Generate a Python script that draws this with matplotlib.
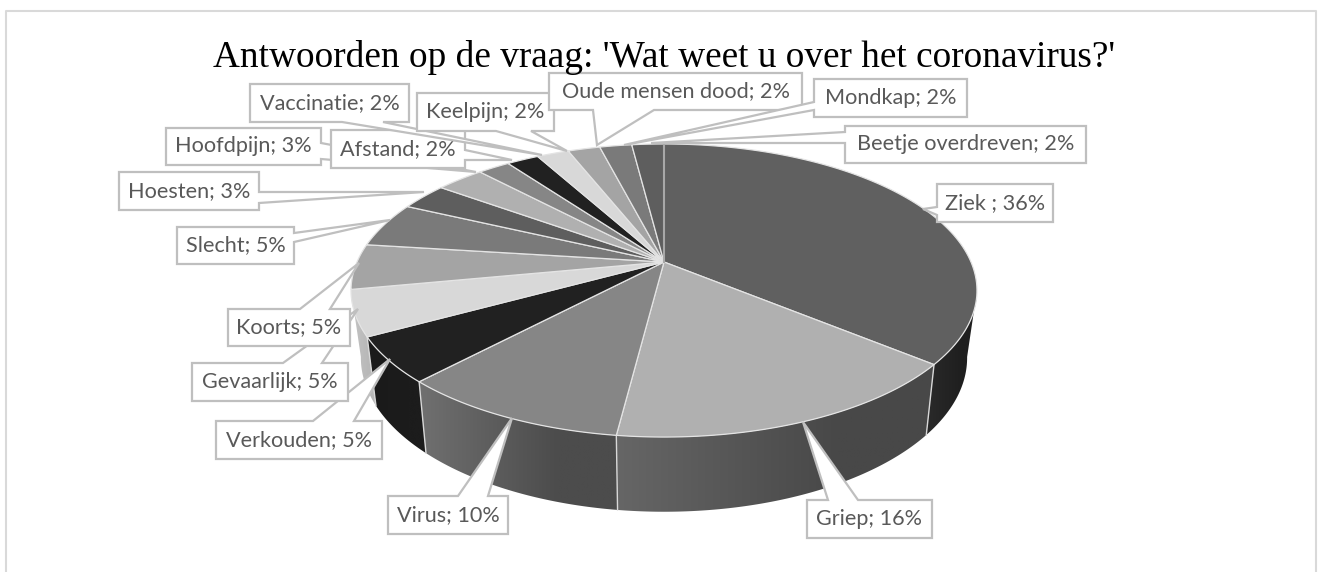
#3D style pie with callout labels
import numpy as np
import matplotlib
matplotlib.use("Agg")
import matplotlib.pyplot as plt
from matplotlib.colors import LinearSegmentedColormap
from matplotlib.patches import Polygon

title = "Antwoorden op de vraag: 'Wat weet u over het coronavirus?'"
labels = ["Ziek ", "Griep", "Virus", "Verkouden", "Gevaarlijk", "Koorts", "Slecht", "Hoesten",
          "Hoofdpijn", "Afstand", "Vaccinatie", "Keelpijn", "Oude mensen dood", "Mondkap", "Beetje overdreven"]
values = [36, 16, 10, 5, 5, 5, 5, 3, 3, 2, 2, 2, 2, 2, 2]

#top colours of the slices
top_colors = ["#606060", "#b0b0b0", "#868686", "#212121", "#d8d8d8", "#a4a4a4", "#7a7a7a", "#5e5e5e",
              "#b0b0b0", "#868686", "#212121", "#d8d8d8", "#a4a4a4", "#7a7a7a", "#5e5e5e"]
#side colours, left and right end of the gradient
side_left = ["#2a2a2a", "#666666", "#707070", "#1a1a1a", "#c4c4c4"]
side_right = ["#1f1f1f", "#484848", "#4c4c4c", "#1c1c1c", "#b8b8b8"]

#box x0, y0, x1, y1
boxes = [(937, 184, 1053, 222), (807, 500, 932, 538), (388, 496, 508, 534), (216, 421, 382, 459),
         (192, 363, 348, 401), (228, 309, 350, 346), (177, 227, 294, 264), (119, 172, 259, 210),
         (166, 128, 321, 165), (331, 130, 465, 168), (250, 84, 409, 122), (417, 93, 554, 131),
         (549, 73, 802, 110), (814, 79, 967, 117), (845, 126, 1086, 163)]
#tail points, clockwise, and the box corner it goes after
tails = [([(937, 215), (923, 209), (937, 207)], 3),
         ([(828, 500), (803, 422), (858, 500)], 0),
         ([(458, 496), (512, 418), (488, 496)], 0),
         ([(313, 421), (390, 359), (354, 421)], 0),
         ([(283, 363), (358, 309), (322, 363)], 0),
         ([(300, 309), (359, 263), (330, 309)], 0),
         ([(294, 233), (390, 220), (294, 242)], 1),
         ([(259, 192), (424, 192), (259, 203)], 1),
         ([(321, 143), (476, 172), (321, 159)], 1),
         ([(465, 150), (512, 160), (465, 160)], 1),
         ([(383, 122), (542, 155), (342, 122)], 2),
         ([(531, 131), (567, 151), (496, 131)], 2),
         ([(654, 110), (597, 145), (593, 110)], 2),
         ([(814, 110), (624, 145), (814, 102)], 3),
         ([(845, 143), (651, 143), (845, 132)], 3)]

CX = 664
CY = 262
#where the pie edge is widest on screen, the side starts to show from there
T_RIGHT = np.arccos(-0.1945)
T_LEFT = 2 * np.pi - T_RIGHT


def top_xy(t):
    #t is the angle clockwise from the top of the pie, radians
    d = 1 + 0.1945 * np.cos(t)
    return CX + 307 * np.sin(t) / d, CY - 141 * np.cos(t) / d


def bottom_xy(t):
    d = 1 + 0.2 * np.cos(t)
    return CX + 297 * np.sin(t) / d, 327 - 147.8 * np.cos(t) / d


fig = plt.figure(figsize=(13.23, 5.72), dpi=100)
ax = fig.add_axes([0, 0, 1, 1])
ax.axis("off")

#chart frame, open at the bottom
ax.plot([6, 6, 1316, 1316], [572, 11, 11, 572], color="#d9d9d9", lw=1.5)

fracs = np.cumsum([0] + values) / sum(values) * 2 * np.pi

#sides of the front slices, a gradient image clipped to the side shape
for i in range(5):
    ts = np.linspace(max(fracs[i], T_RIGHT), min(fracs[i + 1], T_LEFT), 120)
    x1, y1 = top_xy(ts)
    x2, y2 = bottom_xy(ts)
    side = Polygon(np.c_[np.r_[x1, x2[::-1]], np.r_[y1, y2[::-1]]], closed=True, transform=ax.transData)
    cmap = LinearSegmentedColormap.from_list("side", [side_left[i], side_right[i]])
    grad = np.clip(np.linspace(0, 1 / 0.7, 256), 0, 1).reshape(1, -1)
    xa, xb = min(x1.min(), x2.min()), max(x1.max(), x2.max())
    ya, yb = min(y1.min(), y2.min()), max(y1.max(), y2.max())
    im = ax.imshow(grad, cmap=cmap, vmin=0, vmax=1, extent=(xa, xb, yb, ya), aspect="auto", zorder=2)
    im.set_clip_path(side)
    if i > 0:
        xt, yt = top_xy(fracs[i])
        xs, ys = bottom_xy(fracs[i])
        ax.plot([xt, xs], [yt, ys], color="#d8d8d8", lw=1, zorder=3)

#top of the slices
for i in range(len(values)):
    ts = np.linspace(fracs[i], fracs[i + 1], 100)
    x, y = top_xy(ts)
    ax.add_patch(Polygon(np.c_[np.r_[CX, x], np.r_[CY, y]], closed=True, facecolor=top_colors[i],
                         edgecolor="#e4e4e4", lw=0.9, zorder=4))
xt, yt = top_xy(0.0)
ax.plot([xt, CX], [yt, CY], color="#a8a8a8", lw=1.5, zorder=4.5)

#callouts
for i in range(len(values)):
    x0, y0, x1, y1 = boxes[i]
    corners = [(x0, y0), (x1, y0), (x1, y1), (x0, y1)]
    pts, after = tails[i]
    outline = corners[:after + 1] + pts + corners[after + 1:]
    ax.add_patch(Polygon(outline, closed=True, facecolor="white", edgecolor="#bfbfbf", lw=1.6, zorder=5 + i * 0.01))
    ax.text((x0 + x1) / 2, (y0 + y1) / 2, "%s; %d%%" % (labels[i], values[i]), family="Lato", fontsize=15.6,
            color="#595959", ha="center", va="center", zorder=5 + i * 0.01)

ax.text(664, 67, title, family="Liberation Serif", fontsize=26.8, color="black", ha="center", va="baseline", zorder=6)

ax.set_xlim(0, 1323)
ax.set_ylim(572, 0)
fig.savefig("out.png", dpi=100)
